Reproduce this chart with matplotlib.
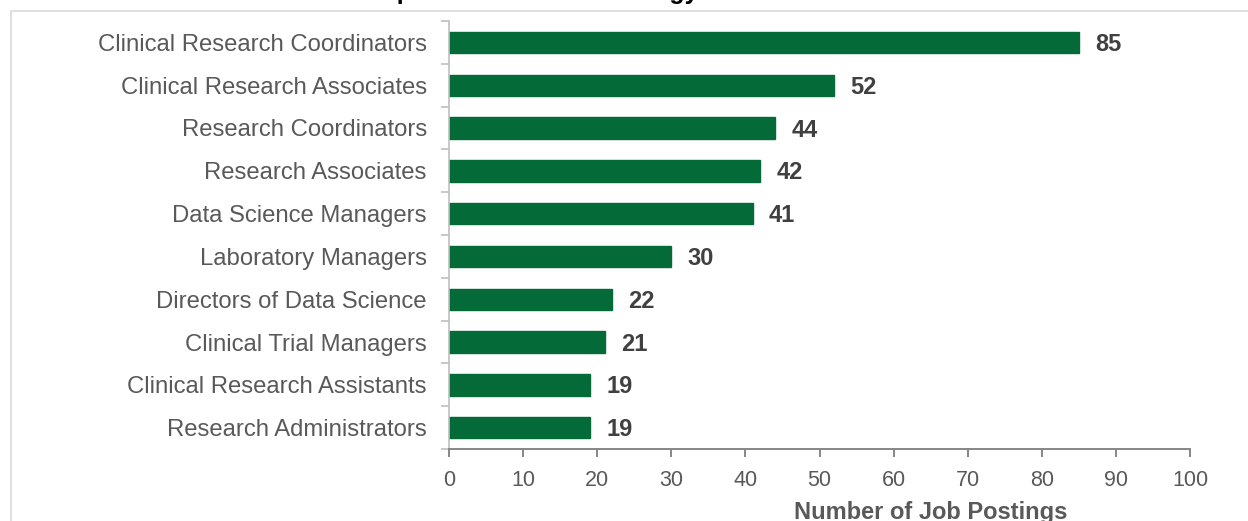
import matplotlib
matplotlib.use("Agg")
import matplotlib.pyplot as plt
import numpy as np
from matplotlib.patches import Rectangle

categories = ["Clinical Research Coordinators", "Clinical Research Associates",
              "Research Coordinators", "Research Associates", "Data Science Managers",
              "Laboratory Managers", "Directors of Data Science", "Clinical Trial Managers",
              "Clinical Research Assistants", "Research Administrators"]
values = [85, 52, 44, 42, 41, 30, 22, 21, 19, 19]
xticks = [0, 10, 20, 30, 40, 50, 60, 70, 80, 90, 100]
title = "Top Jobs for Biotechnology Graduates 2020"
xlabel = "Number of Job Postings"

plt.rcParams['font.family'] = ['Liberation Sans', 'DejaVu Sans']

W, H = 1248, 521
fig = plt.figure(figsize=(W / 100, H / 100), dpi=100)
fig.patch.set_facecolor('white')

# outer chart border (light gray), extends beyond image right/bottom
fig.add_artist(Rectangle((11 / W, -0.1), 1.2, 1 - 11 / H + 0.1, transform=fig.transFigure,
                         fill=False, edgecolor='#D9D9D9', linewidth=1.2))

fig.text(0.505, 1 + 1 / H, title, ha='center', va='baseline', fontsize=18,
         fontweight='bold', color='black')

ax = fig.add_axes([449 / W, 1 - 449 / H, (1190 - 449) / W, (449 - 21) / H])
n = len(categories)
y = np.arange(n)
ax.barh(y, values, height=0.5, color='#046A38', edgecolor='#046A38')
ax.set_ylim(n - 0.5, -0.5)
ax.set_xlim(0, 100)

for yi, v in zip(y, values):
    ax.text(v + 2.2, yi + 0.05, str(v), va='center', ha='left', fontsize=17,
            fontweight='bold', color='#404040')

ax.set_yticks(y)
ax.set_yticklabels(categories, fontsize=17.2, color='#595959')
ax.tick_params(axis='y', which='major', length=0, pad=16)
ax.set_yticks(np.arange(-0.5, n + 0.5, 1), minor=True)
ax.tick_params(axis='y', which='minor', length=6, direction='out', color='#BFBFBF', width=1.2)

ax.set_xticks(xticks)
ax.set_xticklabels([str(t) for t in xticks], fontsize=15.5, color='#595959')
ax.tick_params(axis='x', length=6, direction='out', color='#868686', width=1.4, pad=9)

ax.set_xlabel(xlabel, fontsize=17, fontweight='bold', color='#595959')
ax.xaxis.set_label_coords(0.65, -0.122)

for s in ['top', 'right']:
    ax.spines[s].set_visible(False)
ax.spines['left'].set_color('#BFBFBF')
ax.spines['left'].set_linewidth(1.2)
ax.spines['bottom'].set_color('#868686')
ax.spines['bottom'].set_linewidth(1.4)

fig.savefig('out.png', dpi=100, facecolor='white')
